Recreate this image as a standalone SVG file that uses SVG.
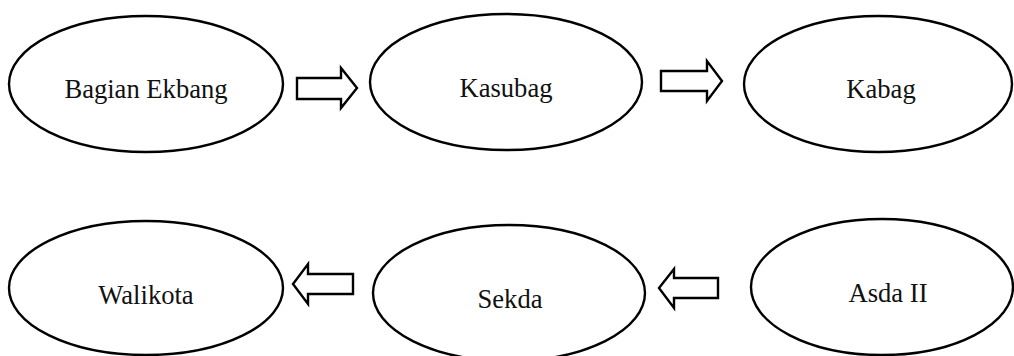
<svg xmlns="http://www.w3.org/2000/svg" width="1014" height="356" viewBox="0 0 1014 356">
  <style>
    .node { fill: #ffffff; stroke: #000000; stroke-width: 2.4; }
    .label { font-family: "Liberation Serif", "Times New Roman", serif; font-size: 26.6px; fill: #111111; text-anchor: middle; }
    .arrow { fill: #ffffff; stroke: #000000; stroke-width: 2.4; stroke-linejoin: miter; }
  </style>
  <rect width="1014" height="356" fill="#ffffff"/>

  <!-- top row -->
  <g id="bagian-ekbang">
    <ellipse class="node" cx="146" cy="84" rx="137" ry="68"/>
    <text class="label" x="146" y="98">Bagian Ekbang</text>
  </g>
  <g id="kasubag">
    <ellipse class="node" cx="506" cy="82" rx="136" ry="68"/>
    <text class="label" x="506" y="97">Kasubag</text>
  </g>
  <g id="kabag">
    <ellipse class="node" cx="878" cy="84" rx="134" ry="68"/>
    <text class="label" x="881" y="98">Kabag</text>
  </g>

  <!-- bottom row -->
  <g id="walikota">
    <ellipse class="node" cx="146" cy="288" rx="137" ry="67"/>
    <text class="label" x="146" y="304">Walikota</text>
  </g>
  <g id="sekda">
    <ellipse class="node" cx="509" cy="293" rx="136" ry="68"/>
    <text class="label" x="510" y="308">Sekda</text>
  </g>
  <g id="asda-ii">
    <ellipse class="node" cx="882" cy="287" rx="131" ry="68"/>
    <text class="label" x="888" y="302">Asda II</text>
  </g>

  <!-- block arrows -->
  <g id="connectors">
    <polygon class="arrow" points="297,78 341,78 341,68 357,88 341,108 341,99 297,99"/>
    <polygon class="arrow" points="661,71 707,71 707,61 722,81 707,101 707,91 661,91"/>
    <polygon class="arrow" points="353,274 308,274 308,264 293,284 308,304 308,294 353,294"/>
    <polygon class="arrow" points="718,278 674,278 674,269 659,288 674,308 674,298 718,298"/>
  </g>
</svg>
